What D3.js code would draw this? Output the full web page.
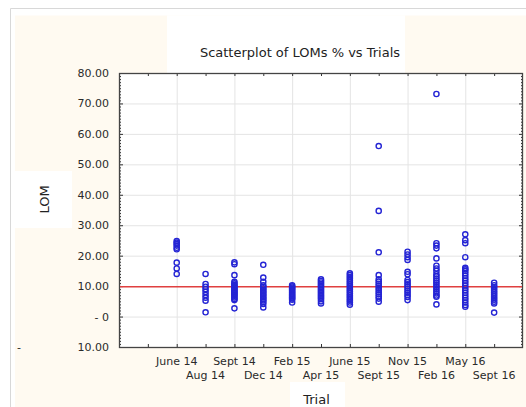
<!DOCTYPE html>
<html>
<head>
<meta charset="utf-8">
<script src="https://cdn.jsdelivr.net/npm/d3@7"></script>
<style>
  body { margin: 0; background: #ffffff; }
  svg { display: block; }
  text { font-family: "DejaVu Sans", sans-serif; }
</style>
</head>
<body>
<div id="chart"></div>
<script>
// trial labels, in order along the x axis
const trials = ["June 14", "Aug 14", "Sept 14", "Dec 14", "Feb 15", "Apr 15",
    "June 15", "Sept 15", "Nov 15", "Feb 16", "May 16", "Sept 16"];

// LOM % per trial
const lomJune14 = [24.8, 24.3, 23.8, 23.3, 22.6, 22.1, 17.7, 15.8, 14.0];
const lomAug14 = [14.0, 10.7, 9.8, 9.0, 8.1, 7.1, 6.2, 5.2, 1.4];
const lomSept14 = [17.8, 17.2, 13.6, 11.4, 10.9, 10.4, 10.0, 9.6, 9.2, 8.8, 8.4, 8.0, 7.6, 7.2, 6.8, 6.3, 5.8, 5.4, 2.7];
const lomDec14 = [17.0, 12.8, 11.4, 10.3, 9.8, 9.3, 8.8, 8.3, 7.8, 7.3, 6.8, 6.3, 5.8, 5.3, 4.8, 4.1, 3.0];
const lomFeb15 = [10.3, 9.9, 9.5, 9.1, 8.7, 8.3, 7.9, 7.5, 7.1, 6.7, 6.3, 5.9, 5.5, 4.6];
const lomApr15 = [12.2, 11.7, 11.2, 10.7, 10.2, 9.7, 9.2, 8.7, 8.2, 7.7, 7.2, 6.7, 6.2, 5.7, 5.0, 4.3];
const lomJune15 = [14.2, 13.6, 13.0, 12.4, 11.8, 11.2, 10.6, 10.0, 9.4, 8.8, 8.2, 7.6, 7.0, 6.4, 5.8, 5.2, 4.6, 3.9];
const lomSept15 = [56.0, 34.7, 21.1, 13.6, 12.2, 11.5, 10.8, 10.1, 9.4, 8.7, 8.0, 7.3, 6.6, 5.9, 4.9];
const lomNov15 = [21.3, 20.4, 19.5, 18.6, 14.7, 13.9, 12.0, 11.3, 10.6, 9.9, 9.2, 8.5, 7.8, 7.1, 6.4, 5.4];
const lomFeb16 = [73.1, 24.1, 23.3, 22.4, 19.1, 16.7, 15.8, 15.0, 13.9, 13.2, 12.5, 11.8, 11.1, 10.4, 9.7, 9.0, 8.3, 7.6, 6.9, 6.5, 4.0];
const lomMay16 = [27.0, 25.1, 24.1, 19.5, 16.0, 15.5, 15.0, 14.2, 13.4, 12.6, 11.8, 11.0, 10.2, 9.4, 8.6, 7.8, 7.0, 6.2, 5.4, 4.6, 3.8, 3.2];
const lomSept16 = [11.1, 10.3, 9.7, 9.1, 8.5, 7.9, 7.3, 6.7, 6.1, 5.5, 4.9, 4.3, 1.3];

const lomSeries = [lomJune14, lomAug14, lomSept14, lomDec14, lomFeb15, lomApr15,
    lomJune15, lomSept15, lomNov15, lomFeb16, lomMay16, lomSept16];

// y ticks and their printed labels (as in the picture)
const yTicks = [80, 70, 60, 50, 40, 30, 20, 10, 0, -10];
const yTickLabels = ["80.00", "70.00", "60.00", "50.00", "40.00", "30.00", "20.00", "10.00", "- 0", "10.00"];

// reference line
const refValue = 9.8;

const width = 526, height = 407;
const plot = {left: 119, right: 523, top: 73, bottom: 347};
const cream = "#fffaf1";

const svg = d3.select("#chart").append("svg")
    .attr("width", width)
    .attr("height", height);

// frame and background boxes
svg.append("path")
    .attr("d", "M10.5," + height + "V8.5H" + width)
    .attr("fill", "none")
    .attr("stroke", "#d8d8d8");
svg.append("rect")
    .attr("x", 15).attr("y", 15.5)
    .attr("width", width - 15).attr("height", height - 15.5)
    .attr("fill", cream);
svg.append("rect")
    .attr("x", 167).attr("y", 15.5)
    .attr("width", 238).attr("height", plot.top - 15.5)
    .attr("fill", "#ffffff");
svg.append("rect")
    .attr("x", 15).attr("y", 171)
    .attr("width", 57).attr("height", 57)
    .attr("fill", "#ffffff");
svg.append("rect")
    .attr("x", 290).attr("y", 382)
    .attr("width", 55).attr("height", height - 382)
    .attr("fill", "#ffffff");
svg.append("rect")
    .attr("x", plot.left).attr("y", plot.top)
    .attr("width", plot.right - plot.left).attr("height", plot.bottom - plot.top)
    .attr("fill", "#ffffff");

// scales: two empty slots before the first trial
const x = d3.scaleLinear().domain([-2, trials.length]).range([plot.left, plot.right]);
const y = d3.scaleLinear().domain([-10, 80]).range([plot.bottom, plot.top]);

const slots = d3.range(-1, trials.length);
const minorY = d3.range(-10, 81, 1);

// grid
svg.append("g").selectAll("line")
    .data(yTicks.filter(d => d > -10 && d < 80))
    .enter().append("line")
    .attr("x1", plot.left).attr("x2", plot.right)
    .attr("y1", d => y(d) + 0.5).attr("y2", d => y(d) + 0.5)
    .attr("stroke", "#e4e4e4");
svg.append("g").selectAll("line")
    .data(d3.range(0, trials.length, 2))
    .enter().append("line")
    .attr("x1", d => x(d) + 0.5).attr("x2", d => x(d) + 0.5)
    .attr("y1", plot.top).attr("y2", plot.bottom)
    .attr("stroke", "#e4e4e4");

// ticks, all pointing inward
const ticks = svg.append("g").attr("stroke", "#333333");
ticks.selectAll(".ly")
    .data(minorY)
    .enter().append("line")
    .attr("x1", plot.left).attr("x2", d => plot.left + (d % 10 === 0 ? 4 : 2))
    .attr("y1", d => y(d) + 0.5).attr("y2", d => y(d) + 0.5);
ticks.selectAll(".ry")
    .data(minorY)
    .enter().append("line")
    .attr("x1", plot.right).attr("x2", d => plot.right - (d % 10 === 0 ? 4 : 2))
    .attr("y1", d => y(d) + 0.5).attr("y2", d => y(d) + 0.5);
ticks.selectAll(".tx")
    .data(slots)
    .enter().append("line")
    .attr("x1", d => x(d) + 0.5).attr("x2", d => x(d) + 0.5)
    .attr("y1", plot.top).attr("y2", plot.top + 3);
ticks.selectAll(".bx")
    .data(slots)
    .enter().append("line")
    .attr("x1", d => x(d) + 0.5).attr("x2", d => x(d) + 0.5)
    .attr("y1", plot.bottom).attr("y2", plot.bottom - 3);

// plot frame
svg.append("rect")
    .attr("x", plot.left + 0.5).attr("y", plot.top + 0.5)
    .attr("width", plot.right - plot.left - 1).attr("height", plot.bottom - plot.top)
    .attr("fill", "none")
    .attr("stroke", "#444444")
    .attr("stroke-width", 1.3);

// reference line
svg.append("line")
    .attr("x1", plot.left + 1).attr("x2", plot.right - 1)
    .attr("y1", y(refValue)).attr("y2", y(refValue))
    .attr("stroke", "#e04040")
    .attr("stroke-width", 1.6);

// points
const points = [];
lomSeries.forEach(function(values, i) {
    values.forEach(function(v) { points.push({trial: i, value: v}); });
});
svg.append("g").selectAll("circle")
    .data(points)
    .enter().append("circle")
    .attr("cx", d => x(d.trial))
    .attr("cy", d => y(d.value))
    .attr("r", 2.6)
    .attr("fill", "none")
    .attr("stroke", "#2424d4")
    .attr("stroke-width", 1.4);

// y tick labels
svg.append("g").selectAll("text")
    .data(yTicks)
    .enter().append("text")
    .attr("x", 109)
    .attr("y", d => y(d) + 4)
    .attr("text-anchor", "end")
    .attr("font-size", "11px")
    .attr("fill", "#2a2a2a")
    .text((d, i) => yTickLabels[i]);
svg.append("text")
    .attr("x", 17).attr("y", y(-10) + 4)
    .attr("font-size", "11px")
    .attr("fill", "#2a2a2a")
    .text("-");

// x tick labels on two rows
svg.append("g").selectAll("text")
    .data(trials)
    .enter().append("text")
    .attr("x", (d, i) => x(i))
    .attr("y", (d, i) => i % 2 === 0 ? 365 : 379)
    .attr("text-anchor", "middle")
    .attr("font-size", "11px")
    .attr("fill", "#2a2a2a")
    .text(d => d);

// titles
svg.append("text")
    .attr("x", 300).attr("y", 57)
    .attr("text-anchor", "middle")
    .attr("font-family", "Liberation Sans, Arial, sans-serif")
    .attr("font-size", "13px")
    .attr("fill", "#222222")
    .text("Scatterplot of LOMs % vs Trials");
svg.append("text")
    .attr("x", 316.5).attr("y", 404)
    .attr("text-anchor", "middle")
    .attr("font-family", "Liberation Sans, Arial, sans-serif")
    .attr("font-size", "13px")
    .attr("fill", "#222222")
    .text("Trial");
svg.append("text")
    .attr("transform", "translate(49,199.5) rotate(-90)")
    .attr("text-anchor", "middle")
    .attr("font-family", "Liberation Sans, Arial, sans-serif")
    .attr("font-size", "13px")
    .attr("fill", "#222222")
    .text("LOM");
</script>
</body>
</html>
